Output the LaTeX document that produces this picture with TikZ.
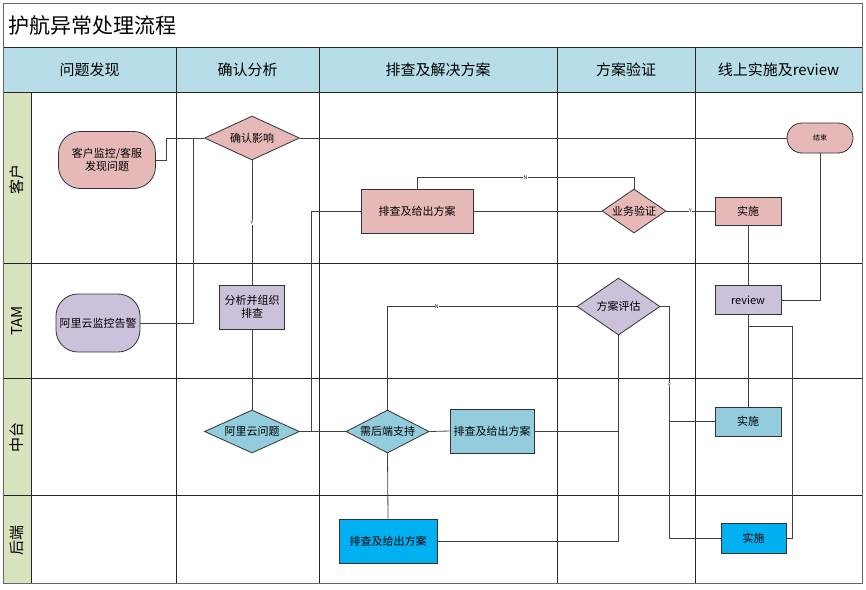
\documentclass[tikz,border=0pt]{standalone}
\usepackage{fontspec}
\setmainfont{Noto Sans CJK SC}
\usetikzlibrary{shapes.geometric,calc}
\definecolor{pinkfill}{HTML}{E6B9B8}
\definecolor{lavfill}{HTML}{CCC1DA}
\definecolor{tealfill}{HTML}{93CDDD}
\definecolor{bluefill}{HTML}{00B0F0}
\definecolor{headfill}{HTML}{B7DEE8}
\definecolor{lanefill}{HTML}{D7E4BD}
\begin{document}
\begin{tikzpicture}[x=1pt,y=-1pt,
  box/.style={draw=black!80,line width=0.8pt,font=\fontsize{11}{13}\selectfont,inner sep=1pt,align=center},
  procbox/.style={box,rectangle},
  decide/.style={box,diamond,inner sep=0pt},
  term/.style={box,rectangle},
  link/.style={draw=black!75,line width=0.8pt},
  yn/.style={font=\fontsize{5}{5}\selectfont,fill=white,inner sep=0.3pt},
  grid/.style={draw=black!85,line width=0.7pt}]
  \useasboundingbox (0,0) rectangle (866,589);

  % Frame, header row and lane column
  \fill[headfill] (3,47) rectangle (862,92);
  \fill[lanefill] (3,92) rectangle (31,583);
  \draw[grid] (3,47) -- (862,47);
  \draw[grid] (3,92) -- (862,92);
  \foreach \x in {176,319,557,695} {
    \draw[grid] (\x,47) -- (\x,583);
  }
  \foreach \y in {263,378,495} {
    \draw[grid] (3,\y) -- (862,\y);
  }
  \draw[grid] (31,92) -- (31,583);
  \draw[black!60,line width=0.9pt] (3,3) rectangle (862,583);

  % Title and column headers
  \node[anchor=west,font=\fontsize{21}{24}\selectfont] (title) at (5,25) {护航异常处理流程};
  \node[font=\fontsize{15}{18}\selectfont] (hfind) at (89.5,70) {问题发现};
  \node[font=\fontsize{15}{18}\selectfont] (hconfirm) at (247.5,70) {确认分析};
  \node[font=\fontsize{15}{18}\selectfont] (hsolve) at (438,70) {排查及解决方案};
  \node[font=\fontsize{15}{18}\selectfont] (hverify) at (626,70) {方案验证};
  \node[font=\fontsize{15}{18}\selectfont] (hdeploy) at (778.5,70) {线上实施及review};

  % Lane names
  \node[rotate=90,font=\fontsize{15}{18}\selectfont] (lcust) at (17,179) {客户};
  \node[rotate=90,font=\fontsize{15}{18}\selectfont] (ltam) at (17,321) {TAM};
  \node[rotate=90,font=\fontsize{15}{18}\selectfont] (lmid) at (17,437) {中台};
  \node[rotate=90,font=\fontsize{15}{18}\selectfont] (lback) at (17,540) {后端};

  % Steps
  \node[term,fill=pinkfill,rounded corners=22pt,minimum width=97pt,minimum height=57pt] (find) at (107,160) {客户监控/客服\\发现问题};
  \node[term,fill=lavfill,rounded corners=22pt,minimum width=84pt,minimum height=58pt] (alarm) at (98,323) {阿里云监控告警};
  \node[decide,fill=pinkfill,aspect=2.2,minimum width=95pt,minimum height=44pt] (impact) at (252,138) {确认影响};
  \node[procbox,fill=lavfill,minimum width=65pt,minimum height=44pt] (analyse) at (252,307) {分析并组织\\排查};
  \node[decide,fill=tealfill,aspect=2.2,minimum width=95pt,minimum height=43pt] (aliq) at (252,431.5) {阿里云问题};
  \node[procbox,fill=pinkfill,minimum width=112pt,minimum height=44pt] (pinkfix) at (417,211) {排查及给出方案};
  \node[decide,fill=pinkfill,aspect=1.45,minimum width=64pt,minimum height=44pt] (verify) at (634,211) {业务验证};
  \node[procbox,fill=pinkfill,minimum width=66pt,minimum height=28pt] (pinkdo) at (748,211) {实施};
  \node[term,fill=pinkfill,rounded corners=15pt,minimum width=66pt,minimum height=30pt,font=\fontsize{7}{8}\selectfont] (end) at (820,138) {结束};
  \node[procbox,fill=lavfill,minimum width=66pt,minimum height=29pt] (review) at (748,300) {review};
  \node[decide,fill=lavfill,aspect=1.46,minimum width=83pt,minimum height=57pt] (evaluate) at (618.5,306.5) {方案评估};
  \node[decide,fill=tealfill,aspect=1.93,minimum width=83pt,minimum height=43pt] (needbe) at (387.5,431.5) {需后端支持};
  \node[procbox,fill=tealfill,minimum width=84pt,minimum height=44pt] (midfix) at (492,431) {排查及给出方案};
  \node[procbox,fill=tealfill,minimum width=66pt,minimum height=29pt] (middo) at (748,421.5) {实施};
  \node[procbox,fill=bluefill,minimum width=98pt,minimum height=44pt] (befix) at (388,541) {排查及给出方案};
  \node[procbox,fill=bluefill,minimum width=65pt,minimum height=30pt] (bedo) at (753.5,538) {实施};

  \coordinate (revjoin) at ($(review.south)+(0,-11pt)$);
  \coordinate (evalturn) at ($(evaluate.east)+(9pt,0)$);

  % Connectors
  \draw[link] (find.east) -- ++(10pt,0) |- (impact.west);
  \draw[link] (alarm.east) -- ++(53pt,0) |- (impact.west);
  \draw[link] (impact.east) -- (end.west);
  \draw[link] (impact.south) -- node[yn,pos=0.5] {Y} (analyse.north);
  \draw[link] (analyse.south) -- (aliq.north);
  \draw[link] (aliq.east) -- (needbe.west);
  \draw[link] (aliq.east) -- ++(11pt,0) |- (pinkfix.west);
  \draw[link] (pinkfix.north) -- ++(0,11pt) -| node[yn,pos=0.25] {N} (verify.north);
  \draw[link] (pinkfix.east) -- (verify.west);
  \draw[link] (verify.east) -- node[yn,pos=0.5] {Y} (pinkdo.west);
  \draw[link] (pinkdo.south) -- (review.north);
  \draw[link] (review.east) -| (end.south);
  \draw[link] (review.south) -- (middo.north);
  \draw[link] (bedo.east) -- ++(6pt,0) |- (revjoin);
  \draw[link] (evaluate.west) -| node[yn,pos=0.37] {N} (needbe.north);
  \draw[link] (needbe.east) -- (midfix.west);
  \draw[link] (needbe.south) -- (befix.north);
  \draw[link] (midfix.east) -| (evaluate.south);
  \draw[link] (befix.east) -| (evaluate.south);
  \draw[link] (evaluate.east) -- (evalturn) |- node[yn,pos=0.17] {Y} (bedo.west);
  \draw[link] (middo.west) -- (middo.west -| evalturn);
\end{tikzpicture}
\end{document}
